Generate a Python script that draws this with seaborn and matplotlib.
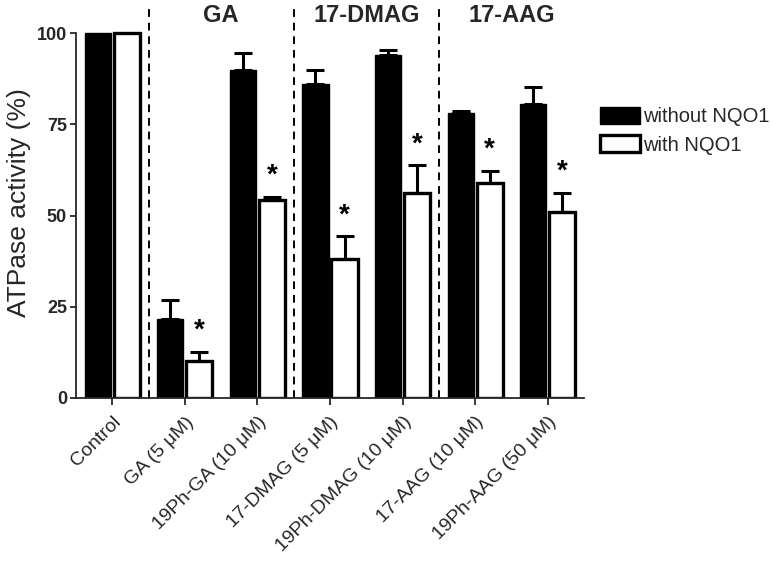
import matplotlib
matplotlib.use("Agg")
import matplotlib.pyplot as plt
import seaborn as sns
import pandas as pd
import numpy as np

categories = ["Control", "GA (5 \u03bcM)", "19Ph-GA (10 \u03bcM)", "17-DMAG (5 \u03bcM)",
              "19Ph-DMAG (10 \u03bcM)", "17-AAG (10 \u03bcM)", "19Ph-AAG (50 \u03bcM)"]
series = ["without NQO1", "with NQO1"]
without_vals = [100, 21.6, 90.0, 86.2, 94.1, 78.0, 80.7]
without_err = [0, 5.2, 4.6, 3.6, 1.2, 0.6, 4.6]
with_vals = [100, 10.1, 54.2, 38.1, 56.3, 58.8, 51.0]
with_err = [0, 2.5, 1.0, 6.2, 7.5, 3.5, 5.2]
significant = [False, True, True, True, True, True, True]
group_labels = ["GA", "17-DMAG", "17-AAG"]
group_centers = [1.5, 3.5, 5.5]
separators = [0.5, 2.5, 4.5]
yticks = [0, 25, 50, 75, 100]

df = pd.DataFrame({
    "category": categories * 2,
    "series": [series[0]] * len(categories) + [series[1]] * len(categories),
    "value": without_vals + with_vals,
})

sns.set_style("ticks")
plt.rcParams["font.family"] = ["Liberation Sans", "DejaVu Sans"]

fig = plt.figure(figsize=(7.71, 5.65), dpi=100)
ax = fig.add_axes([76 / 771, 1 - 398 / 565, (584 - 76) / 771, (398 - 4) / 565])

sns.barplot(data=df, x="category", y="value", hue="series", order=categories,
            hue_order=series, palette=["black", "white"], width=0.8, gap=0.1,
            errorbar=None, ax=ax, legend=False)

cont_black, cont_white = ax.containers[0], ax.containers[1]
for p in cont_black.patches:
    p.set_edgecolor("black")
    p.set_linewidth(1.0)
for p in cont_white.patches:
    p.set_edgecolor("black")
    p.set_linewidth(2.4)

def centers(cont):
    return np.array([p.get_x() + p.get_width() / 2 for p in cont.patches])

xb, xw = centers(cont_black), centers(cont_white)
for xs, vals, errs in [(xb, without_vals, without_err), (xw, with_vals, with_err)]:
    vals = np.array(vals, float)
    errs = np.array(errs, float)
    m = errs > 0
    ax.errorbar(xs[m], vals[m], yerr=[np.zeros(m.sum()), errs[m]], fmt="none",
                ecolor="black", elinewidth=2.2, capsize=6.5, capthick=2.2, zorder=1)

for x, v, e, s in zip(xw, with_vals, with_err, significant):
    if s:
        ax.text(x, v + e + 2.2, "*", ha="center", va="bottom", fontsize=20,
                fontweight="bold", color="black")

for sx in separators:
    ax.axvline(sx, color="black", lw=1.4, linestyle=(0, (4, 3)), zorder=0)

for gx, gl in zip(group_centers, group_labels):
    ax.text(gx, 104.8, gl, ha="center", va="center", fontsize=17, fontweight="bold")

ax.set_xlim(-0.5, 6.5)
ax.set_ylim(0, 108)
ax.set_yticks(yticks)
ax.set_yticklabels([str(t) for t in yticks], fontsize=13, fontweight="bold")
ax.set_xlabel("")
ax.set_ylabel("ATPase activity (%)", fontsize=19)
ax.yaxis.set_label_coords(-0.088, 0.495)
ax.set_xticks(range(len(categories)))
ax.set_xticklabels(categories, rotation=45, ha="right", rotation_mode="anchor", fontsize=14)
ax.tick_params(axis="x", length=5, width=1.3, pad=6)
ax.tick_params(axis="y", length=4.5, width=1.3, pad=2)
for sp in ["top", "right"]:
    ax.spines[sp].set_visible(False)
ax.spines["left"].set_bounds(0, 100)
ax.spines["left"].set_linewidth(1.3)
ax.spines["bottom"].set_linewidth(1.3)

ax.legend(handles=[cont_black.patches[0], cont_white.patches[0]], labels=series,
          loc="upper left", bbox_to_anchor=(600 / 771, 1 - 107 / 565),
          bbox_transform=fig.transFigure, frameon=False, fontsize=14.5,
          borderpad=0, borderaxespad=0, handlelength=2.0, handleheight=0.9,
          handletextpad=0.15, labelspacing=0.45)

fig.savefig("out.png", dpi=100)
